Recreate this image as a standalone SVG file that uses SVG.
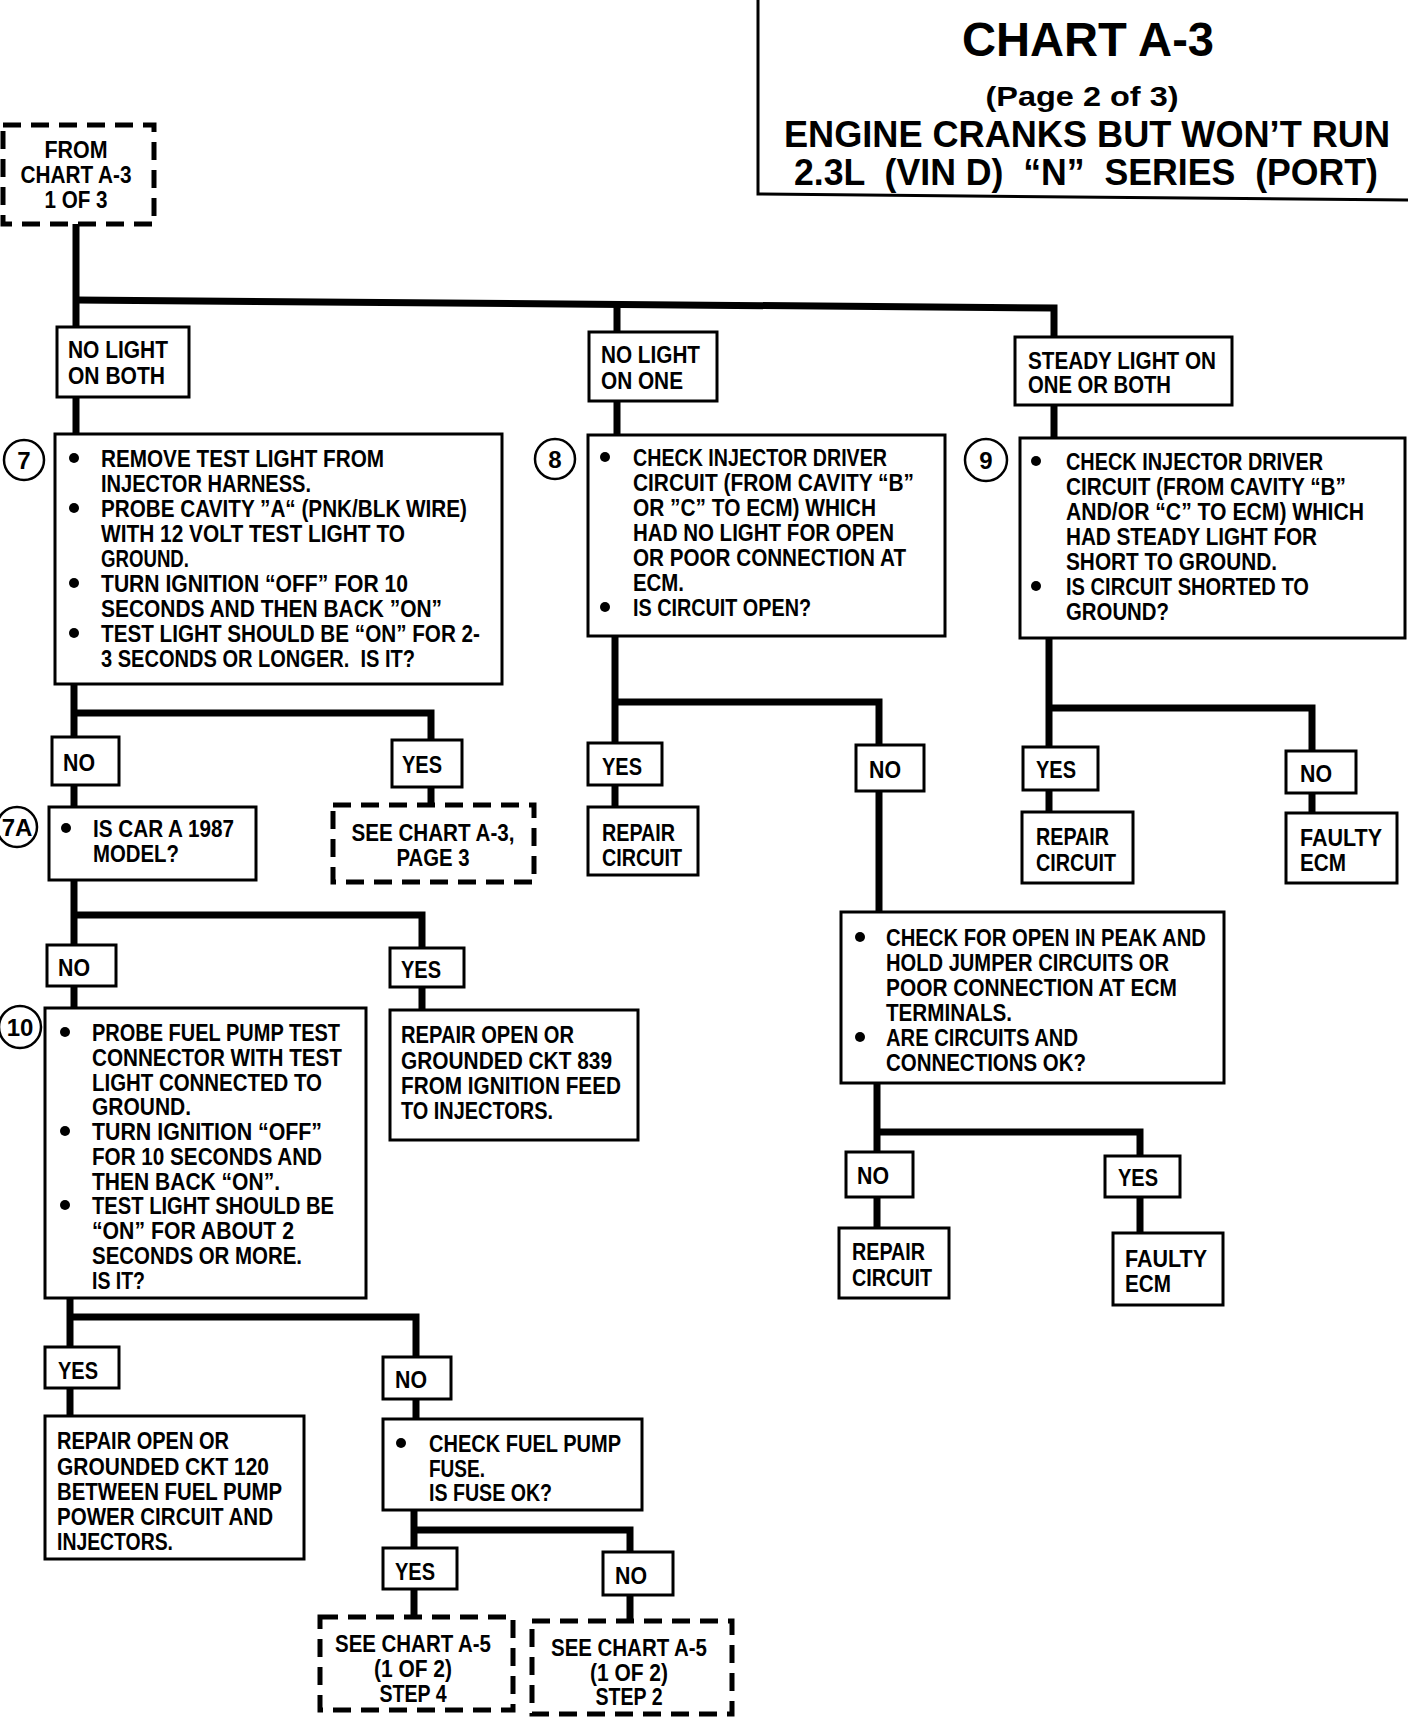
<svg xmlns="http://www.w3.org/2000/svg" width="1408" height="1720" viewBox="0 0 1408 1720">
<style>
.t{font-family:"Liberation Sans Narrow","Liberation Sans",Arial,sans-serif;font-weight:bold;font-size:24px;fill:#000}
.h{font-family:"Liberation Sans",Arial,sans-serif;font-weight:bold;fill:#000;text-anchor:middle;white-space:pre}
.m{text-anchor:middle}
.box{fill:#fff;stroke:#000;stroke-width:3}
.dash{fill:#fff;stroke:#000;stroke-width:5;stroke-dasharray:18 10}
.conn{fill:none;stroke:#000;stroke-width:7}
.num{fill:#fff;stroke:#000;stroke-width:2.5}
.b{fill:#000}
</style>
<rect width="1408" height="1720" fill="#fff"/>

<g id="title">
<path d="M758,0 V194 L1408,200" fill="none" stroke="#000" stroke-width="3"/>
<text class="h" x="1088" y="56" font-size="48" textLength="252" lengthAdjust="spacingAndGlyphs">CHART A-3</text>
<text class="h" x="1082" y="106" font-size="28" textLength="193" lengthAdjust="spacingAndGlyphs">(Page 2 of 3)</text>
<text class="h" x="1087" y="147" font-size="37" textLength="606" lengthAdjust="spacingAndGlyphs">ENGINE CRANKS BUT WON’T RUN</text>
<text class="h" x="1086" y="185" font-size="37" textLength="584" lengthAdjust="spacingAndGlyphs">2.3L  (VIN D)  “N”  SERIES  (PORT)</text>
</g>

<g id="connectors">
<path class="conn" d="M76,224 V436"/>
<path class="conn" d="M76,300 L1054,308 V439"/>
<path class="conn" d="M617,304 V435"/>
<path class="conn" d="M74,683 V807"/>
<path class="conn" d="M74,713 H431 V805"/>
<path class="conn" d="M74,880 V1008"/>
<path class="conn" d="M74,915 H422 V1010"/>
<path class="conn" d="M70,1297 V1416"/>
<path class="conn" d="M70,1317 H416 V1419"/>
<path class="conn" d="M414,1510 V1617"/>
<path class="conn" d="M414,1530 H630 V1621"/>
<path class="conn" d="M615,636 V807"/>
<path class="conn" d="M615,702 H879 V912"/>
<path class="conn" d="M877,1083 V1228"/>
<path class="conn" d="M877,1132 H1140 V1233"/>
<path class="conn" d="M1049,638 V812"/>
<path class="conn" d="M1049,708 H1312 V813"/>
</g>

<g id="from">
<rect class="dash" x="3" y="125" width="151" height="99"/>
<text class="t m" x="76" y="158" textLength="63" lengthAdjust="spacingAndGlyphs">FROM</text>
<text class="t m" x="76" y="183" textLength="111" lengthAdjust="spacingAndGlyphs">CHART A-3</text>
<text class="t m" x="76" y="208" textLength="63" lengthAdjust="spacingAndGlyphs">1 OF 3</text>
</g>

<g id="nolight_both">
<rect class="box" x="57" y="327" width="132" height="70"/>
<text class="t" x="68" y="358" textLength="100" lengthAdjust="spacingAndGlyphs">NO LIGHT</text>
<text class="t" x="68" y="384" textLength="97" lengthAdjust="spacingAndGlyphs">ON BOTH</text>
</g>

<g id="nolight_one">
<rect class="box" x="589" y="332" width="128" height="69"/>
<text class="t" x="601" y="363" textLength="99" lengthAdjust="spacingAndGlyphs">NO LIGHT</text>
<text class="t" x="601" y="389" textLength="82" lengthAdjust="spacingAndGlyphs">ON ONE</text>
</g>

<g id="steady">
<rect class="box" x="1015" y="337" width="217" height="68"/>
<text class="t" x="1028" y="369" textLength="188" lengthAdjust="spacingAndGlyphs">STEADY LIGHT ON</text>
<text class="t" x="1028" y="393" textLength="143" lengthAdjust="spacingAndGlyphs">ONE OR BOTH</text>
</g>

<g id="step7">
<rect class="box" x="55" y="434" width="447" height="250"/>
<circle class="num" cx="24" cy="460" r="20"/>
<text class="t m" x="24" y="469">7</text>
<circle class="b" cx="74" cy="458" r="5"/>
<circle class="b" cx="74" cy="508" r="5"/>
<circle class="b" cx="74" cy="583" r="5"/>
<circle class="b" cx="74" cy="633" r="5"/>
<text class="t" x="101" y="467" textLength="283" lengthAdjust="spacingAndGlyphs">REMOVE TEST LIGHT FROM</text>
<text class="t" x="101" y="492" textLength="210" lengthAdjust="spacingAndGlyphs">INJECTOR HARNESS.</text>
<text class="t" x="101" y="517" textLength="366" lengthAdjust="spacingAndGlyphs">PROBE CAVITY ”A“ (PNK/BLK WIRE)</text>
<text class="t" x="101" y="542" textLength="304" lengthAdjust="spacingAndGlyphs">WITH 12 VOLT TEST LIGHT TO</text>
<text class="t" x="101" y="567" textLength="88" lengthAdjust="spacingAndGlyphs">GROUND.</text>
<text class="t" x="101" y="592" textLength="307" lengthAdjust="spacingAndGlyphs">TURN IGNITION “OFF” FOR 10</text>
<text class="t" x="101" y="617" textLength="341" lengthAdjust="spacingAndGlyphs">SECONDS AND THEN BACK ”ON”</text>
<text class="t" x="101" y="642" textLength="379" lengthAdjust="spacingAndGlyphs">TEST LIGHT SHOULD BE “ON” FOR 2-</text>
<text class="t" x="101" y="667" textLength="314" lengthAdjust="spacingAndGlyphs" style="white-space:pre">3 SECONDS OR LONGER.  IS IT?</text>
</g>

<g id="step8">
<rect class="box" x="588" y="435" width="357" height="201"/>
<circle class="num" cx="555" cy="459" r="20"/>
<text class="t m" x="555" y="468">8</text>
<circle class="b" cx="605" cy="457" r="5"/>
<circle class="b" cx="605" cy="607" r="5"/>
<text class="t" x="633" y="466" textLength="254" lengthAdjust="spacingAndGlyphs">CHECK INJECTOR DRIVER</text>
<text class="t" x="633" y="491" textLength="281" lengthAdjust="spacingAndGlyphs">CIRCUIT (FROM CAVITY “B”</text>
<text class="t" x="633" y="516" textLength="243" lengthAdjust="spacingAndGlyphs">OR ”C” TO ECM) WHICH</text>
<text class="t" x="633" y="541" textLength="261" lengthAdjust="spacingAndGlyphs">HAD NO LIGHT FOR OPEN</text>
<text class="t" x="633" y="566" textLength="273" lengthAdjust="spacingAndGlyphs">OR POOR CONNECTION AT</text>
<text class="t" x="633" y="591" textLength="51" lengthAdjust="spacingAndGlyphs">ECM.</text>
<text class="t" x="633" y="616" textLength="178" lengthAdjust="spacingAndGlyphs">IS CIRCUIT OPEN?</text>
</g>

<g id="step9">
<rect class="box" x="1020" y="438" width="385" height="200"/>
<circle class="num" cx="986" cy="460" r="21"/>
<text class="t m" x="986" y="469">9</text>
<circle class="b" cx="1036" cy="461" r="5"/>
<circle class="b" cx="1036" cy="586" r="5"/>
<text class="t" x="1066" y="470" textLength="257" lengthAdjust="spacingAndGlyphs">CHECK INJECTOR DRIVER</text>
<text class="t" x="1066" y="495" textLength="280" lengthAdjust="spacingAndGlyphs">CIRCUIT (FROM CAVITY “B”</text>
<text class="t" x="1066" y="520" textLength="298" lengthAdjust="spacingAndGlyphs">AND/OR “C” TO ECM) WHICH</text>
<text class="t" x="1066" y="545" textLength="251" lengthAdjust="spacingAndGlyphs">HAD STEADY LIGHT FOR</text>
<text class="t" x="1066" y="570" textLength="211" lengthAdjust="spacingAndGlyphs">SHORT TO GROUND.</text>
<text class="t" x="1066" y="595" textLength="243" lengthAdjust="spacingAndGlyphs">IS CIRCUIT SHORTED TO</text>
<text class="t" x="1066" y="620" textLength="103" lengthAdjust="spacingAndGlyphs">GROUND?</text>
</g>

<g id="no7">
<rect class="box" x="52" y="737" width="67" height="48"/>
<text class="t" x="63" y="771" textLength="32" lengthAdjust="spacingAndGlyphs">NO</text>
</g>
<g id="yes7">
<rect class="box" x="392" y="740" width="70" height="47"/>
<text class="t" x="402" y="773" textLength="40" lengthAdjust="spacingAndGlyphs">YES</text>
</g>
<g id="see_a3_p3">
<rect class="dash" x="333" y="805" width="201" height="77"/>
<text class="t m" x="433" y="841" textLength="163" lengthAdjust="spacingAndGlyphs">SEE CHART A-3,</text>
<text class="t m" x="433" y="866" textLength="73" lengthAdjust="spacingAndGlyphs">PAGE 3</text>
</g>

<g id="step7a">
<rect class="box" x="49" y="807" width="207" height="73"/>
<circle class="num" cx="17" cy="827" r="20"/>
<text class="t m" x="17" y="836" font-size="21">7A</text>
<circle class="b" cx="66" cy="828" r="5"/>
<text class="t" x="93" y="837" textLength="141" lengthAdjust="spacingAndGlyphs">IS CAR A 1987</text>
<text class="t" x="93" y="862" textLength="86" lengthAdjust="spacingAndGlyphs">MODEL?</text>
</g>

<g id="no7a">
<rect class="box" x="47" y="945" width="69" height="41"/>
<text class="t" x="58" y="976" textLength="32" lengthAdjust="spacingAndGlyphs">NO</text>
</g>
<g id="yes7a">
<rect class="box" x="390" y="948" width="74" height="39"/>
<text class="t" x="401" y="978" textLength="40" lengthAdjust="spacingAndGlyphs">YES</text>
</g>
<g id="repair839">
<rect class="box" x="390" y="1010" width="248" height="130"/>
<text class="t" x="401" y="1043" textLength="173" lengthAdjust="spacingAndGlyphs">REPAIR OPEN OR</text>
<text class="t" x="401" y="1069" textLength="211" lengthAdjust="spacingAndGlyphs">GROUNDED CKT 839</text>
<text class="t" x="401" y="1094" textLength="220" lengthAdjust="spacingAndGlyphs">FROM IGNITION FEED</text>
<text class="t" x="401" y="1119" textLength="152" lengthAdjust="spacingAndGlyphs">TO INJECTORS.</text>
</g>

<g id="step10">
<rect class="box" x="45" y="1008" width="321" height="290"/>
<circle class="num" cx="20" cy="1027" r="21"/>
<text class="t m" x="20" y="1036" font-size="21">10</text>
<circle class="b" cx="65" cy="1032" r="5"/>
<circle class="b" cx="65" cy="1131" r="5"/>
<circle class="b" cx="65" cy="1205" r="5"/>
<text class="t" x="92" y="1041" textLength="248" lengthAdjust="spacingAndGlyphs">PROBE FUEL PUMP TEST</text>
<text class="t" x="92" y="1066" textLength="250" lengthAdjust="spacingAndGlyphs">CONNECTOR WITH TEST</text>
<text class="t" x="92" y="1091" textLength="230" lengthAdjust="spacingAndGlyphs">LIGHT CONNECTED TO</text>
<text class="t" x="92" y="1115" textLength="99" lengthAdjust="spacingAndGlyphs">GROUND.</text>
<text class="t" x="92" y="1140" textLength="230" lengthAdjust="spacingAndGlyphs">TURN IGNITION “OFF”</text>
<text class="t" x="92" y="1165" textLength="230" lengthAdjust="spacingAndGlyphs">FOR 10 SECONDS AND</text>
<text class="t" x="92" y="1190" textLength="188" lengthAdjust="spacingAndGlyphs">THEN BACK “ON”.</text>
<text class="t" x="92" y="1214" textLength="242" lengthAdjust="spacingAndGlyphs">TEST LIGHT SHOULD BE</text>
<text class="t" x="92" y="1239" textLength="202" lengthAdjust="spacingAndGlyphs">“ON” FOR ABOUT 2</text>
<text class="t" x="92" y="1264" textLength="210" lengthAdjust="spacingAndGlyphs">SECONDS OR MORE.</text>
<text class="t" x="92" y="1289" textLength="53" lengthAdjust="spacingAndGlyphs">IS IT?</text>
</g>

<g id="yes10">
<rect class="box" x="45" y="1347" width="74" height="41"/>
<text class="t" x="58" y="1379" textLength="40" lengthAdjust="spacingAndGlyphs">YES</text>
</g>
<g id="repair120">
<rect class="box" x="45" y="1416" width="259" height="143"/>
<text class="t" x="57" y="1449" textLength="172" lengthAdjust="spacingAndGlyphs">REPAIR OPEN OR</text>
<text class="t" x="57" y="1475" textLength="212" lengthAdjust="spacingAndGlyphs">GROUNDED CKT 120</text>
<text class="t" x="57" y="1500" textLength="225" lengthAdjust="spacingAndGlyphs">BETWEEN FUEL PUMP</text>
<text class="t" x="57" y="1525" textLength="216" lengthAdjust="spacingAndGlyphs">POWER CIRCUIT AND</text>
<text class="t" x="57" y="1550" textLength="116" lengthAdjust="spacingAndGlyphs">INJECTORS.</text>
</g>
<g id="no10">
<rect class="box" x="383" y="1357" width="68" height="42"/>
<text class="t" x="395" y="1388" textLength="32" lengthAdjust="spacingAndGlyphs">NO</text>
</g>
<g id="fuse">
<rect class="box" x="383" y="1419" width="259" height="91"/>
<circle class="b" cx="401" cy="1443" r="5"/>
<text class="t" x="429" y="1452" textLength="192" lengthAdjust="spacingAndGlyphs">CHECK FUEL PUMP</text>
<text class="t" x="429" y="1477" textLength="56" lengthAdjust="spacingAndGlyphs">FUSE.</text>
<text class="t" x="429" y="1501" textLength="123" lengthAdjust="spacingAndGlyphs">IS FUSE OK?</text>
</g>
<g id="yes_fuse">
<rect class="box" x="383" y="1548" width="74" height="41"/>
<text class="t" x="395" y="1580" textLength="40" lengthAdjust="spacingAndGlyphs">YES</text>
</g>
<g id="no_fuse">
<rect class="box" x="603" y="1552" width="70" height="43"/>
<text class="t" x="615" y="1584" textLength="32" lengthAdjust="spacingAndGlyphs">NO</text>
</g>
<g id="see_a5_step4">
<rect class="dash" x="320" y="1617" width="193" height="93"/>
<text class="t m" x="413" y="1652" textLength="156" lengthAdjust="spacingAndGlyphs">SEE CHART A-5</text>
<text class="t m" x="413" y="1677" textLength="78" lengthAdjust="spacingAndGlyphs">(1 OF 2)</text>
<text class="t m" x="413" y="1702" textLength="67" lengthAdjust="spacingAndGlyphs">STEP 4</text>
</g>
<g id="see_a5_step2">
<rect class="dash" x="532" y="1621" width="200" height="93"/>
<text class="t m" x="629" y="1656" textLength="156" lengthAdjust="spacingAndGlyphs">SEE CHART A-5</text>
<text class="t m" x="629" y="1681" textLength="78" lengthAdjust="spacingAndGlyphs">(1 OF 2)</text>
<text class="t m" x="629" y="1705" textLength="67" lengthAdjust="spacingAndGlyphs">STEP 2</text>
</g>

<g id="yes8">
<rect class="box" x="588" y="743" width="74" height="42"/>
<text class="t" x="602" y="775" textLength="40" lengthAdjust="spacingAndGlyphs">YES</text>
</g>
<g id="repair8">
<rect class="box" x="588" y="807" width="110" height="68"/>
<text class="t" x="602" y="841" textLength="73" lengthAdjust="spacingAndGlyphs">REPAIR</text>
<text class="t" x="602" y="866" textLength="80" lengthAdjust="spacingAndGlyphs">CIRCUIT</text>
</g>
<g id="no8">
<rect class="box" x="856" y="745" width="68" height="46"/>
<text class="t" x="869" y="778" textLength="32" lengthAdjust="spacingAndGlyphs">NO</text>
</g>
<g id="peak">
<rect class="box" x="841" y="912" width="383" height="171"/>
<circle class="b" cx="860" cy="937" r="5"/>
<circle class="b" cx="860" cy="1037" r="5"/>
<text class="t" x="886" y="946" textLength="320" lengthAdjust="spacingAndGlyphs">CHECK FOR OPEN IN PEAK AND</text>
<text class="t" x="886" y="971" textLength="283" lengthAdjust="spacingAndGlyphs">HOLD JUMPER CIRCUITS OR</text>
<text class="t" x="886" y="996" textLength="291" lengthAdjust="spacingAndGlyphs">POOR CONNECTION AT ECM</text>
<text class="t" x="886" y="1021" textLength="126" lengthAdjust="spacingAndGlyphs">TERMINALS.</text>
<text class="t" x="886" y="1046" textLength="192" lengthAdjust="spacingAndGlyphs">ARE CIRCUITS AND</text>
<text class="t" x="886" y="1071" textLength="200" lengthAdjust="spacingAndGlyphs">CONNECTIONS OK?</text>
</g>
<g id="no_peak">
<rect class="box" x="846" y="1152" width="67" height="45"/>
<text class="t" x="857" y="1184" textLength="32" lengthAdjust="spacingAndGlyphs">NO</text>
</g>
<g id="repair_peak">
<rect class="box" x="839" y="1228" width="110" height="70"/>
<text class="t" x="852" y="1260" textLength="73" lengthAdjust="spacingAndGlyphs">REPAIR</text>
<text class="t" x="852" y="1286" textLength="80" lengthAdjust="spacingAndGlyphs">CIRCUIT</text>
</g>
<g id="yes_peak">
<rect class="box" x="1105" y="1156" width="75" height="41"/>
<text class="t" x="1118" y="1186" textLength="40" lengthAdjust="spacingAndGlyphs">YES</text>
</g>
<g id="faulty_peak">
<rect class="box" x="1113" y="1233" width="110" height="72"/>
<text class="t" x="1125" y="1267" textLength="82" lengthAdjust="spacingAndGlyphs">FAULTY</text>
<text class="t" x="1125" y="1292" textLength="46" lengthAdjust="spacingAndGlyphs">ECM</text>
</g>

<g id="yes9">
<rect class="box" x="1023" y="747" width="75" height="43"/>
<text class="t" x="1036" y="778" textLength="40" lengthAdjust="spacingAndGlyphs">YES</text>
</g>
<g id="repair9">
<rect class="box" x="1022" y="812" width="111" height="71"/>
<text class="t" x="1036" y="845" textLength="73" lengthAdjust="spacingAndGlyphs">REPAIR</text>
<text class="t" x="1036" y="871" textLength="80" lengthAdjust="spacingAndGlyphs">CIRCUIT</text>
</g>
<g id="no9">
<rect class="box" x="1286" y="751" width="70" height="42"/>
<text class="t" x="1300" y="782" textLength="32" lengthAdjust="spacingAndGlyphs">NO</text>
</g>
<g id="faulty9">
<rect class="box" x="1286" y="813" width="111" height="70"/>
<text class="t" x="1300" y="846" textLength="82" lengthAdjust="spacingAndGlyphs">FAULTY</text>
<text class="t" x="1300" y="871" textLength="46" lengthAdjust="spacingAndGlyphs">ECM</text>
</g>
</svg>
